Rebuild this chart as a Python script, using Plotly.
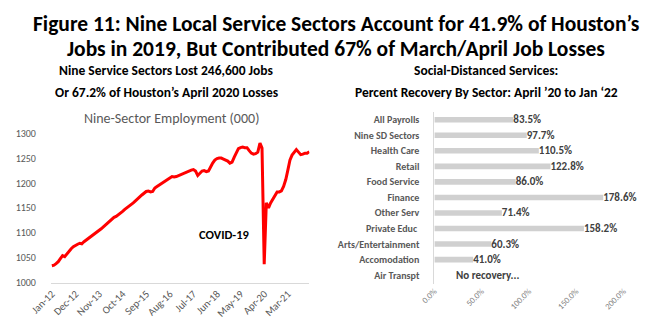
import pandas as pd
import plotly.graph_objects as go

# ---- Nine-sector employment, monthly Jan-2012 .. Jan-2022 (thousands) ----
emp_2012 = [1034, 1035, 1038, 1042, 1048, 1054, 1052, 1058, 1064, 1068, 1072, 1075]
emp_2013 = [1077, 1079, 1078, 1082, 1085, 1088, 1092, 1095, 1098, 1101, 1104, 1108]
emp_2014 = [1112, 1116, 1121, 1124, 1127, 1131, 1133, 1136, 1140, 1143, 1147, 1150]
emp_2015 = [1153, 1157, 1160, 1164, 1169, 1172, 1176, 1180, 1183, 1184, 1182, 1183]
emp_2016 = [1190, 1193, 1196, 1199, 1201, 1204, 1207, 1210, 1213, 1212, 1213, 1215]
emp_2017 = [1216, 1218, 1220, 1222, 1224, 1226, 1227, 1224, 1215, 1220, 1224, 1225]
emp_2018 = [1223, 1224, 1233, 1240, 1246, 1249, 1250, 1250, 1248, 1246, 1244, 1240]
emp_2019 = [1242, 1252, 1262, 1269, 1271, 1272, 1271, 1271, 1265, 1260, 1258, 1259]
emp_2020 = [1262, 1280, 1270, 1037, 1160, 1150, 1160, 1168, 1177, 1182, 1182, 1184]
emp_2021 = [1193, 1207, 1225, 1246, 1256, 1262, 1267, 1262, 1257, 1258, 1260, 1260]
emp_2022 = [1263]

employment = (emp_2012 + emp_2013 + emp_2014 + emp_2015 + emp_2016 + emp_2017
              + emp_2018 + emp_2019 + emp_2020 + emp_2021 + emp_2022)
months = pd.date_range("2012-01-01", periods=len(employment), freq="MS")

# x-axis labels every 11 months
tick_months = pd.date_range("2012-01-01", periods=11, freq="11MS")

# ---- Percent recovery by sector, April '20 to Jan '22 ----
sectors = ["All Payrolls", "Nine SD Sectors", "Health Care", "Retail", "Food Service",
           "Finance", "Other Serv", "Private Educ ", "Arts/Entertainment",
           "Accomodation", "Air Transpt"]
recovery_pct = [83.5, 97.7, 110.5, 122.8, 86.0, 178.6, 71.4, 158.2, 60.3, 41.0, None]
no_recovery_text = "No recovery..."
pct_ticks = [0, 50, 100, 150, 200]
pct_tick_text = ["0.0%", "50.0%", "100.0%", "150.0%", "200.0%"]

W, H = 650, 331
FONT = "Carlito, Lato, sans-serif"


def fx(px):
    return px / W


def fy(py):
    return 1 - py / H


fig = go.Figure()

fig.add_trace(go.Scatter(
    x=months, y=employment, mode="lines",
    line=dict(color="#ff0000", width=3),
    xaxis="x", yaxis="y", showlegend=False, hoverinfo="x+y",
))

fig.add_trace(go.Bar(
    x=recovery_pct, y=sectors, orientation="h",
    marker=dict(color="#d0d0d0", line=dict(width=0)),
    texttemplate="%{x:.1f}%", textposition="outside", cliponaxis=False,
    constraintext="none",
    textfont=dict(family=FONT, size=11, color="#404040", weight="bold"),
    xaxis="x2", yaxis="y2", showlegend=False,
))

annotations = [
    dict(text="Figure 11: Nine Local Service Sectors Account for 41.9% of Houston’s",
         x=fx(326), y=fy(18.5), font=dict(size=21.5, color="#000000", weight="bold")),
    dict(text="Jobs in 2019, But Contributed 67% of March/April Job Losses",
         x=fx(326), y=fy(44.5), font=dict(size=21.5, color="#000000", weight="bold")),
    dict(text="Nine Service Sectors Lost 246,600 Jobs",
         x=fx(150), y=fy(67), font=dict(size=13.5, color="#000000", weight="bold")),
    dict(text="Or 67.2% of Houston’s April 2020 Losses",
         x=fx(150), y=fy(90), font=dict(size=13.5, color="#000000", weight="bold")),
    dict(text="Nine-Sector Employment (000)",
         x=fx(155), y=fy(117), font=dict(size=14, color="#595959")),
    dict(text="Social-Distanced Services:",
         x=fx(481), y=fy(67), font=dict(size=13.5, color="#000000", weight="bold")),
    dict(text="Percent Recovery By Sector: April ’20 to Jan ‘22",
         x=fx(482), y=fy(90), font=dict(size=13.5, color="#000000", weight="bold")),
    dict(text="COVID-19", x=fx(210), y=fy(237),
         font=dict(size=12.5, color="#000000", weight="bold")),
    dict(text=no_recovery_text, x=21, y="Air Transpt", xref="x2", yref="y2",
         xanchor="left", yanchor="middle",
         font=dict(size=11, color="#404040", weight="bold")),
]
for a in annotations:
    a.setdefault("xref", "paper")
    a.setdefault("yref", "paper")
    a.setdefault("xanchor", "center")
    a.setdefault("yanchor", "middle")
    a["showarrow"] = False
    a["font"].setdefault("family", FONT)

fig.update_layout(
    width=W, height=H,
    margin=dict(l=0, r=0, t=0, b=0),
    paper_bgcolor="white", plot_bgcolor="white",
    font=dict(family=FONT),
    bargap=0.64,
    annotations=annotations,
    xaxis=dict(
        domain=[fx(30), fx(298)], anchor="y", type="date",
        range=["2011-12-19", "2022-01-03"],
        tickvals=tick_months, tickformat="%b-%y", tickangle=-45,
        tickfont=dict(family=FONT, size=10.5, color="#595959"),
        showgrid=False, zeroline=False,
        showline=True, linecolor="#d9d9d9", linewidth=1, ticks="",
    ),
    yaxis=dict(
        domain=[fy(287), fy(132)], anchor="x", range=[1000, 1300],
        dtick=50, tick0=1000,
        tickfont=dict(family=FONT, size=10, color="#595959"),
        showgrid=False, zeroline=False, showline=False, ticks="",
        ticklabelstandoff=14,
    ),
    xaxis2=dict(
        domain=[fx(427.5), fx(627.5)], anchor="y2", range=[0, 204.08],
        tickvals=pct_ticks, ticktext=pct_tick_text,
        tickangle=-45, tickfont=dict(family=FONT, size=8.5, color="#7f7f7f"),
        showgrid=False, zeroline=False, showline=False, ticks="",
    ),
    yaxis2=dict(
        domain=[fy(288.1), fy(109.9)], anchor="x2", type="category",
        autorange="reversed",
        tickfont=dict(family=FONT, size=10, color="#595959", weight="bold"),
        showgrid=False, zeroline=False,
        showline=True, linecolor="#d9d9d9", linewidth=1, ticks="",
        ticklabelstandoff=12,
    ),
)

fig.write_html("out.html")
